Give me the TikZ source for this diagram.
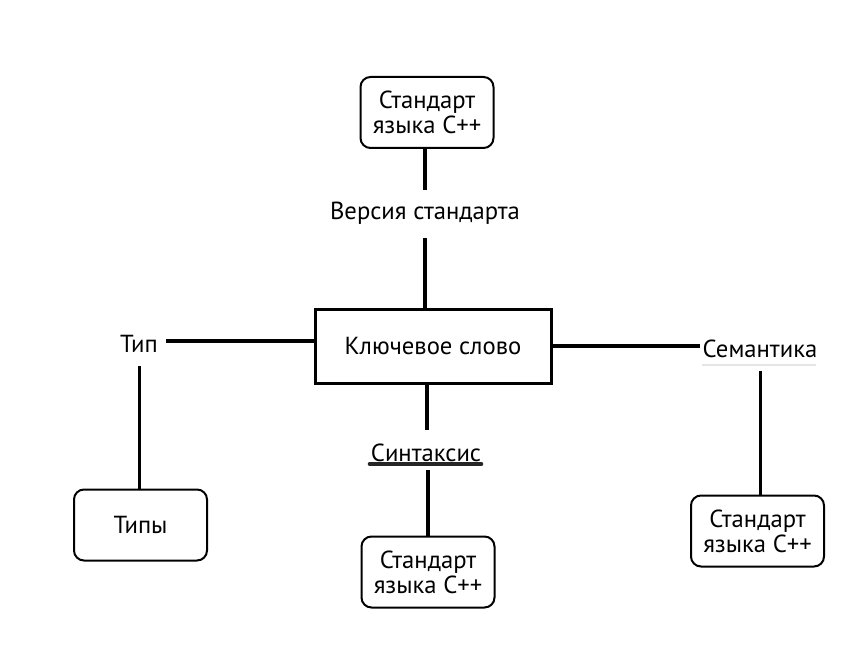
\documentclass[tikz,border=0pt]{standalone}
\usepackage{fontspec}
\setmainfont{PT Sans}
\usetikzlibrary{calc}
\begin{document}
\begin{tikzpicture}[x=0.75pt,y=-0.75pt,
  txt/.style={font=\fontsize{18.5}{18.75}\selectfont, align=center, inner sep=0pt},
  rbox/.style={txt, draw, line width=1.5pt, rounded corners=7.5pt, minimum width=99.75pt, minimum height=53.25pt},
  keybox/.style={txt, draw, line width=2.25pt, minimum width=177pt, minimum height=55.5pt},
  lbl/.style={txt},
  thick line/.style={line width=3pt},
  mid line/.style={line width=2.25pt}]
\useasboundingbox (0,0) rectangle (856,670);
\node[keybox] (key) at (433,346) {Ключевое слово};
\node[rbox] (top) at (427,112.5) {Стандарт\\языка С++};
\node[rbox] (bot) at (428,572) {Стандарт\\языка С++};
\node[rbox] (types) at (140.5,525) {Типы};
\node[rbox] (right) at (757.5,531) {Стандарт\\языка С++};
\node[lbl] (ver) at (425,213) {Версия стандарта};
\node[lbl] (syn) at (426,453) {Синтаксис};
\node[lbl] (tip) at (139,344) {Тип};
\node[lbl] (sem) at (760,349) {Семантика};
% connectors
\draw[thick line] (top.south -| ver) -- ($(ver.center)+(0,-23)$);
\draw[thick line] ($(ver.center)+(0,25)$) -- (key.north -| ver);
\draw[thick line] (key.south -| 427,0) -- ($(syn.center)+(1,-23)$);
\draw[thick line] ($(syn.center)+(2,17)$) -- (bot.north);
\draw[line width=3.5pt, black!85, line cap=round] ($(syn.center)+(-56,11)$) -- ($(syn.center)+(55,11)$);
\draw[thick line] (key.west |- 0,341) -- ($(tip.center)+(27,-3)$);
\draw[mid line] ($(tip.center)+(0,22)$) -- (types.north -| tip);
\draw[thick line] (key.east |- 0,346) -- ($(sem.center)+(-60,-3)$);
\draw[line width=2pt, black!10] ($(sem.center)+(-58,16)$) -- ($(sem.center)+(56,16)$);
\draw[mid line] ($(sem.center)+(0,22)$) -- (right.north -| sem);
\end{tikzpicture}
\end{document}
